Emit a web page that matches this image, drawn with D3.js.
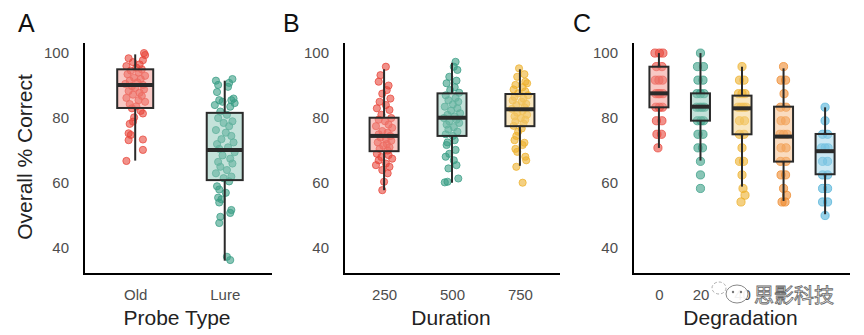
<!DOCTYPE html>
<html><head><meta charset="utf-8">
<script src="https://cdn.jsdelivr.net/npm/d3@7"></script>
<style>body{margin:0;background:#fff}svg{display:block}</style>
</head><body><svg id="c" width="864" height="335"></svg>
<script>
// ---------------- DATA ----------------
const yTicks = [40, 60, 80, 100];
const catsA = ["Old", "Lure"];
const catsB = ["250", "500", "750"];
const catsC = ["0", "20", "40", "60", "80"];

// box stats: [lowWhisker, q1, median, q3, highWhisker]
const statsA = [[66.9, 83.1, 90.2, 95.0, 99.6], [36.1, 60.9, 70.2, 81.6, 91.5]];
const statsB = [[57.8, 69.8, 74.5, 80.1, 95.0], [60.1, 74.5, 80.1, 87.6, 97.0], [65.3, 77.5, 82.7, 87.4, 95.0]];
const statsC = [[70.8, 83.3, 87.6, 95.8, 100], [66.9, 79.2, 83.5, 87.6, 100], [58.9, 75.0, 83.0, 86.9, 95.8],
                [54.5, 66.6, 74.3, 83.5, 95.3], [50.4, 62.7, 69.8, 75.1, 83.3]];

// individual points (values) and horizontal jitter (fraction of jitter half-width)
const ptsA_old = [100, 99.4, 98.4, 97.8, 97.2, 96.5, 96, 95.5, 95, 94.6, 94, 93.5, 93, 92.4, 92, 91.5, 91, 90.5, 90.2, 89.8, 89.3, 88.8, 88.3, 87.8, 87.2, 86.8, 86.2, 85.5, 85, 84.3, 83.6, 83, 82.2, 81.4, 80.2, 78.9, 78.2, 75.3, 74.8, 73.4, 73.2, 70.2, 66.8];
const jitA_old = [0.8, 0.9, -0.6, 0.7, -0.2, 0.4, -0.8, 0.1, 0.6, -0.4, 0.3, -0.7, 0.9, -0.1, 0.5, -0.5, 0.2, -0.9, 0.7, -0.3, 0.0, 0.8, -0.6, 0.4, -0.2, 0.6, -0.8, 0.3, 0.9, -0.5, 0.1, -0.3, 0.5, 0.7, -0.1, -0.2, -0.5, -0.6, -0.4, 0.7, -0.6, 0.7, -0.8];
const ptsA_lure = [92, 91.5, 90.8, 90.2, 89.6, 88, 86, 85.5, 85.5, 85, 84.6, 84, 83.5, 82, 81, 80, 79, 78.5, 77.5, 76.3, 75.5, 74.5, 73.5, 72.5, 72, 71, 70.5, 69.5, 68.5, 67.5, 66.5, 66, 65, 64, 63, 62, 61.5, 60.5, 59, 58, 57, 55.5, 55, 54, 51.7, 50.8, 49.6, 47.7, 37.3, 36.3];
const jitA_lure = [0.7, -0.8, 0.4, -0.6, 0.3, -0.7, 0.8, -0.5, 0.6, -0.2, 0.9, -0.9, 0.5, -0.4, 0.2, -0.6, 0.7, -0.1, 0.4, -0.8, 0.1, 0.6, -0.3, 0.8, -0.7, 0.3, -0.5, 0.9, -0.2, 0.5, -0.6, 0.7, -0.4, 0.2, -0.8, 0.6, -0.1, 0.4, -0.7, -0.5, 0.1, -0.6, -0.3, -0.5, 0.6, 0.5, -0.4, -0.5, 0.2, 0.5];
const ptsB_250 = [95.8, 93.2, 91.2, 90, 88.6, 87.5, 86, 85, 84, 83, 82.5, 81, 80, 79.5, 79, 78, 77.5, 77, 76, 75.5, 75, 74.5, 74, 73.5, 73, 72.5, 72, 71.5, 71, 70.5, 70, 69, 68.6, 68, 67.5, 67, 66, 65.5, 65, 64, 63, 60.4, 57.8];
const jitB_250 = [0.2, -0.4, -0.6, 0.5, 0.3, -0.2, 0.7, -0.5, 0.2, -0.8, 0.6, -0.3, 0.8, -0.6, 0.1, 0.5, -0.9, 0.9, -0.2, 0.4, -0.6, 0.7, -0.4, 0.2, 0.8, -0.7, 0.3, -0.1, 0.6, -0.5, 0.4, -0.8, 0.5, -0.3, 0.9, -0.6, 0.2, -0.9, 0.6, -0.2, 0.4, 0.0, -0.2];
const ptsB_500 = [97.3, 95.8, 94.8, 92.7, 91.5, 90.7, 89.5, 88.6, 87.8, 87, 86.2, 85.5, 85, 84.2, 83.5, 83, 82.3, 81.5, 81, 80.5, 80, 79.5, 79, 78.5, 78, 77.2, 76.5, 75.8, 75, 74.5, 73.2, 72.5, 71.7, 70.2, 69, 68.1, 67, 65.5, 64.5, 61.4, 60.4, 60.2];
const jitB_500 = [0.4, 0.2, 0.6, -0.3, 0.5, -0.6, 0.3, -0.2, 0.8, -0.7, 0.4, -0.4, 0.7, 0.1, -0.8, 0.6, -0.1, 0.9, -0.5, 0.3, -0.9, 0.5, -0.3, 0.8, -0.6, 0.2, -0.4, 0.6, -0.7, 0.1, 0.3, -0.5, -0.6, 0.4, -0.3, -0.7, 0.2, 0.5, -0.4, 0.7, -0.5, -0.8];
const ptsB_750 = [95.3, 93.5, 92.7, 91.2, 90.7, 90.2, 89.5, 88.8, 88.2, 87.6, 87, 86.5, 86, 85.4, 85, 84.4, 84, 83.3, 82.8, 82.2, 81.6, 81, 80.5, 80, 79.5, 79, 78.3, 77.6, 76.8, 75.8, 74.5, 73.2, 72.4, 71.7, 70.5, 69.6, 68.1, 67, 65, 60.1];
const jitB_750 = [-0.1, 0.5, -0.3, 0.6, 0.8, -0.5, 0.3, -0.7, 0.6, -0.2, 0.9, -0.6, 0.4, -0.8, 0.2, 0.7, -0.4, 0.5, -0.9, 0.3, -0.3, 0.8, -0.6, 0.1, 0.6, -0.5, 0.4, -0.7, 0.2, -0.2, -0.4, -0.6, 0.5, 0.3, -0.5, -0.3, 0.6, 0.7, -0.4, 0.3];
const ptsC = [
  [100, 100, 100, 95.83, 95.83, 91.67, 91.67, 91.67, 87.5, 87.5, 87.5, 87.5, 83.33, 83.33, 83.33, 79.17, 79.17, 75, 75, 70.83],
  [100, 95.83, 95.83, 91.67, 91.67, 87.5, 87.5, 87.5, 83.33, 83.33, 83.33, 83.33, 79.17, 79.17, 79.17, 75, 75, 70.83, 70.83, 66.67, 62.5, 58.33],
  [95.83, 91.67, 91.67, 87.5, 87.5, 87.5, 83.33, 83.33, 83.33, 83.33, 79.17, 79.17, 75, 75, 70.83, 66.67, 66.67, 62.5, 58.33, 56.25, 54.17],
  [95.83, 91.67, 91.67, 87.5, 83.33, 83.33, 79.17, 79.17, 75, 75, 75, 70.83, 70.83, 66.67, 66.67, 62.5, 62.5, 58.33, 56.25, 54.17, 54.17],
  [83.33, 79.17, 75, 75, 70.83, 70.83, 70.83, 66.67, 66.67, 62.5, 62.5, 58.33, 58.33, 54.17, 54.17, 50]
];
const jitC = [
  [-0.8, 0.1, 0.8, -0.5, 0.6, -0.7, 0.0, 0.7, -0.6, 0.2, 0.8, -0.1, -0.6, 0.1, 0.7, -0.5, 0.6, -0.4, 0.5, -0.2],
  [0.0, -0.6, 0.6, -0.5, 0.5, -0.7, 0.0, 0.7, -0.8, -0.2, 0.3, 0.8, -0.6, 0.1, 0.6, -0.5, 0.5, -0.5, 0.4, 0.0, 0.0, 0.0],
  [0.0, -0.5, 0.4, -0.7, 0.0, 0.6, -0.8, -0.2, 0.3, 0.8, -0.5, 0.5, -0.5, 0.4, 0.0, -0.5, 0.3, 0.0, 0.2, 0.6, -0.2],
  [0.0, -0.5, 0.4, 0.1, -0.6, 0.5, -0.5, 0.4, -0.7, 0.0, 0.7, -0.5, 0.5, -0.6, 0.5, -0.5, 0.4, 0.0, 0.6, -0.3, 0.3],
  [0.0, 0.0, -0.5, 0.5, -0.7, 0.0, 0.6, -0.5, 0.5, -0.5, 0.5, -0.5, 0.5, -0.5, 0.5, 0.0]
];

// ---------------- STYLE / LAYOUT ----------------
const COL = {red: "#E8473C", teal: "#3A9E86", gold: "#EDB12E", orange: "#EE8A2E", blue: "#52B2D8"};
const FONT = "'Liberation Sans', Arial, Helvetica, sans-serif";
const TOP = 43, BOTTOM = 274;
const panels = [
  {letter: "A", letterX: 18, left: 84, right: 272, pad: 0.55, align: 0.52, boxW: 36, jit: 11, r: 3.6,
   cats: catsA, stats: statsA, pts: [ptsA_old, ptsA_lure], jits: [jitA_old, jitA_lure], cols: [COL.red, COL.teal], title: "Probe Type"},
  {letter: "B", letterX: 283, left: 344, right: 560, pad: 0.59, align: 0.5, boxW: 29, jit: 9, r: 3.6,
   cats: catsB, stats: statsB, pts: [ptsB_250, ptsB_500, ptsB_750], jits: [jitB_250, jitB_500, jitB_750], cols: [COL.red, COL.teal, COL.gold], title: "Duration"},
  {letter: "C", letterX: 573, left: 633, right: 850, pad: 0.612, align: 0.51, boxW: 19, jit: 5, r: 4.1,
   cats: catsC, stats: statsC, pts: ptsC, jits: jitC, cols: [COL.red, COL.teal, COL.gold, COL.orange, COL.blue], title: "Degradation"}
];

const svg = d3.select("#c");
const y = d3.scaleLinear().domain([32, 103.1]).range([BOTTOM, TOP]);

panels.forEach((p, pi) => {
  const x = d3.scalePoint().domain(p.cats).range([p.left, p.right]).padding(p.pad).align(p.align);
  const g = svg.append("g");

  // points
  p.cats.forEach((c, ci) => {
    const col = p.cols[ci];
    g.append("g").selectAll("circle").data(p.pts[ci]).join("circle")
      .attr("cx", (d, i) => x(c) + (p.jits[ci][i] || 0) * p.jit)
      .attr("cy", d => y(d))
      .attr("r", p.r)
      .attr("fill", col).attr("fill-opacity", 0.6)
      .attr("stroke", col).attr("stroke-opacity", 0.75).attr("stroke-width", 1);
  });

  // boxplots
  p.cats.forEach((c, ci) => {
    const s = p.stats[ci], col = p.cols[ci], cx = x(c), hw = p.boxW / 2;
    const bg = g.append("g");
    bg.append("line").attr("x1", cx).attr("x2", cx).attr("y1", y(s[4])).attr("y2", y(s[3]))
      .attr("stroke", "#2a2a2a").attr("stroke-width", 2);
    bg.append("line").attr("x1", cx).attr("x2", cx).attr("y1", y(s[1])).attr("y2", y(s[0]))
      .attr("stroke", "#2a2a2a").attr("stroke-width", 2);
    bg.append("rect").attr("x", cx - hw).attr("width", p.boxW)
      .attr("y", y(s[3])).attr("height", y(s[1]) - y(s[3]))
      .attr("fill", d3.interpolateRgb(col, "#ffffff")(0.4)).attr("fill-opacity", 0.5)
      .attr("stroke", "#2a2a2a").attr("stroke-width", 2);
    bg.append("line").attr("x1", cx - hw).attr("x2", cx + hw).attr("y1", y(s[2])).attr("y2", y(s[2]))
      .attr("stroke", "#2a2a2a").attr("stroke-width", 4);
  });

  // axes
  const ya = g.append("g").attr("transform", `translate(${p.left},0)`)
    .call(d3.axisLeft(y).tickValues(yTicks).tickSize(0).tickPadding(15));
  ya.select(".domain").remove();
  ya.selectAll("text").attr("font-family", FONT).attr("font-size", 15).attr("fill", "#4d4d4d");
  const xa = g.append("g").attr("transform", `translate(0,${BOTTOM})`)
    .call(d3.axisBottom(x).tickSize(0).tickPadding(15));
  xa.select(".domain").remove();
  xa.selectAll("text").attr("font-family", FONT).attr("font-size", 15).attr("fill", "#4d4d4d");

  g.append("path").attr("d", `M${p.left},${TOP}V${BOTTOM}H${p.right}`)
    .attr("fill", "none").attr("stroke", "#000").attr("stroke-width", 2);

  // titles
  g.append("text").attr("x", (p.left + p.right) / 2 - 1).attr("y", 325).attr("text-anchor", "middle")
    .attr("font-family", FONT).attr("font-size", 21).attr("fill", "#222").text(p.title);
  g.append("text").attr("x", p.letterX).attr("y", 32)
    .attr("font-family", FONT).attr("font-size", 25).attr("fill", "#111").text(p.letter);
});

svg.append("text").attr("transform", "translate(32,157) rotate(-90)").attr("text-anchor", "middle")
  .attr("font-family", FONT).attr("font-size", 21).attr("fill", "#222").text("Overall % Correct");

// watermark (covers part of the Degradation tick labels, as in the source image)
const wm = svg.append("g");
wm.append("rect").attr("x", 751).attr("y", 281).attr("width", 90).attr("height", 26).attr("fill", "#fff");
wm.append("ellipse").attr("cx", 719).attr("cy", 288).attr("rx", 7).attr("ry", 6)
  .attr("fill", "#fff").attr("fill-opacity", 0.85).attr("stroke", "#999").attr("stroke-width", 0.8).attr("stroke-dasharray", "3,2");
wm.append("ellipse").attr("cx", 737).attr("cy", 294).attr("rx", 11).attr("ry", 9)
  .attr("fill", "#fff").attr("fill-opacity", 0.92).attr("stroke", "#888").attr("stroke-width", 1);
wm.append("circle").attr("cx", 733).attr("cy", 292).attr("r", 1.2).attr("fill", "#777");
wm.append("circle").attr("cx", 741).attr("cy", 292).attr("r", 1.2).attr("fill", "#777");
wm.append("text").attr("x", 754).attr("y", 303).attr("font-family", "'Noto Sans CJK SC', sans-serif")
  .attr("font-size", 20).attr("fill", "#fff").attr("stroke", "#666").attr("stroke-width", 0.8).text("思影科技");
</script></body></html>
